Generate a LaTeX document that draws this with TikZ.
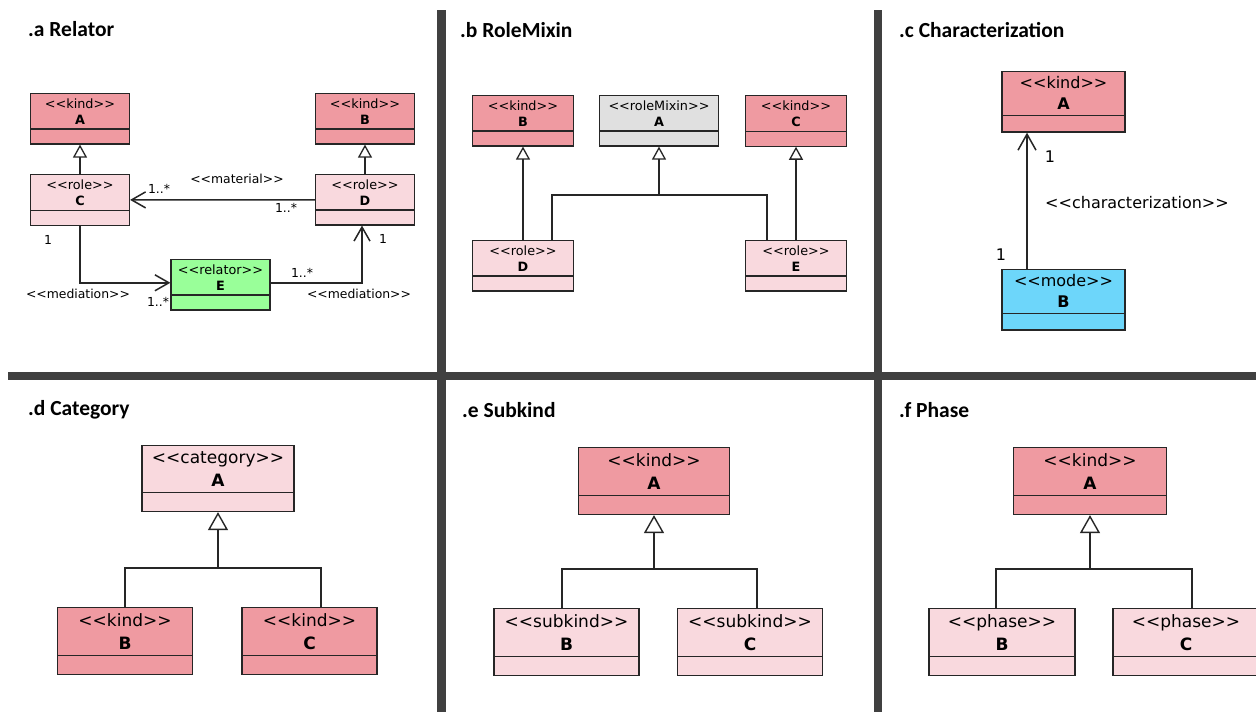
\documentclass[tikz,border=0pt]{standalone}
\usepackage{fontspec}
\setmainfont{DejaVu Sans}
\newfontfamily\titlefont{Carlito}
\usepackage{xcolor}
\usetikzlibrary{shapes.multipart, arrows.meta}
\definecolor{kindred}{HTML}{EF9AA1}
\definecolor{rolepink}{HTML}{F9D9DE}
\definecolor{relatorgreen}{HTML}{99FF99}
\definecolor{mixingray}{HTML}{E0E0E0}
\definecolor{modecyan}{HTML}{6DD6FA}
\definecolor{panelgray}{HTML}{404040}
\newcommand{\ster}[1]{<\kern0pt<#1>\kern0pt>}

\tikzset{
  umlclass/.style={rectangle split, rectangle split parts=2, draw=black!85, line width=1.2pt,
    align=center, inner xsep=2pt, anchor=north, rectangle split empty part depth=0pt},
  smallcls/.style={umlclass, font=\fontsize{12.8}{16}\selectfont, inner ysep=4.2pt, rectangle split empty part height=3.5pt},
  midcls/.style={umlclass, font=\fontsize{16}{21}\selectfont, inner ysep=4.6pt, rectangle split empty part height=6.5pt},
  bigcls/.style={umlclass, font=\fontsize{17}{23}\selectfont, inner ysep=5.4pt, rectangle split empty part height=7pt},
  link/.style={draw=black!85, line width=1.5pt},
  gensmall/.style={link, -{Triangle[open, width=14pt, length=13pt, line width=1.3pt]}},
  genbig/.style={link, -{Triangle[open, width=20pt, length=18pt, line width=1.4pt]}},
  assoc/.style={link, -{Straight Barb[length=14pt, width=16pt, line width=1.5pt]}},
  assocbig/.style={link, -{Straight Barb[length=16pt, width=18pt, line width=1.5pt]}},
  paneltitle/.style={anchor=west, inner sep=0pt, font=\titlefont\bfseries\fontsize{21.5}{21.5}\selectfont},
  smalltag/.style={inner sep=0pt, font=\fontsize{12.4}{14}\selectfont},
  bigtag/.style={inner sep=0pt, font=\fontsize{16}{18}\selectfont},
}

\begin{document}
\begin{tikzpicture}[x=1pt, y=-1pt]
  \useasboundingbox (0,0) rectangle (1256,712);
  \clip (0,0) rectangle (1256,712);
  \fill[white] (0,0) rectangle (1256,712);

  % Panel separators
  \fill[panelgray] (437,10) rectangle (446,712);
  \fill[panelgray] (874,10) rectangle (882,712);
  \fill[panelgray] (8,371.5) rectangle (1256,379.5);

  % .a Relator
  \node[paneltitle] (ta) at (28,29) {.a Relator};
  \node[smallcls, fill=kindred, minimum width=99pt] (aA) at (80,93) {\ster{kind}\\\textbf{A}\nodepart{two}};
  \node[smallcls, fill=kindred, minimum width=99pt] (aB) at (365,93) {\ster{kind}\\\textbf{B}\nodepart{two}};
  \node[smallcls, fill=rolepink, minimum width=99pt] (aC) at (80,174) {\ster{role}\\\textbf{C}\nodepart{two}};
  \node[smallcls, fill=rolepink, minimum width=99pt] (aD) at (365,174) {\ster{role}\\\textbf{D}\nodepart{two}};
  \node[smallcls, fill=relatorgreen, minimum width=99pt] (aE) at (220.5,259) {\ster{relator}\\\textbf{E}\nodepart{two}};
  \draw[gensmall] (aC.north) -- (aA.south);
  \draw[gensmall] (aD.north) -- (aB.south);
  \draw[assoc] (aD.west) -- (aC.east);
  \draw[assoc] (aC.south) |- ([yshift=2pt]aE.west);
  \draw[assoc] ([yshift=2pt]aE.east) -| ([xshift=-3pt]aD.south);
  \node[smalltag] (aMat) at (237,179) {\ster{material}};
  \node[smalltag] (aMatC) at (159,189) {1..*};
  \node[smalltag] (aMatD) at (286,208) {1..*};
  \node[smalltag] (aMedC) at (48,240) {1};
  \node[smalltag] (aMedL) at (78,294) {\ster{mediation}};
  \node[smalltag] (aMedE) at (158,302) {1..*};
  \node[smalltag] (aMedE2) at (302,273) {1..*};
  \node[smalltag] (aMedD) at (383,239) {1};
  \node[smalltag] (aMedR) at (359,294) {\ster{mediation}};

  % .b RoleMixin
  \node[paneltitle] (tb) at (460,30) {.b RoleMixin};
  \node[smallcls, fill=kindred, minimum width=101pt] (bB) at (523,95) {\ster{kind}\\\textbf{B}\nodepart{two}};
  \node[smallcls, fill=mixingray, minimum width=119pt] (bA) at (659,95) {\ster{roleMixin}\\\textbf{A}\nodepart{two}};
  \node[smallcls, fill=kindred, minimum width=101pt] (bC) at (796,95) {\ster{kind}\\\textbf{C}\nodepart{two}};
  \node[smallcls, fill=rolepink, minimum width=101pt] (bD) at (523,240) {\ster{role}\\\textbf{D}\nodepart{two}};
  \node[smallcls, fill=rolepink, minimum width=101pt] (bE) at (796,240) {\ster{role}\\\textbf{E}\nodepart{two}};
  \coordinate (bJ) at (659,195);
  \draw[gensmall] (bD.north) -- (bB.south);
  \draw[gensmall] (bE.north) -- (bC.south);
  \draw[link] ([xshift=29pt]bD.north) |- (bJ) -| ([xshift=-29pt]bE.north);
  \draw[gensmall] (bJ) -- (bA.south);

  % .c Characterization
  \node[paneltitle] (tc) at (899,30) {.c Characterization};
  \node[midcls, fill=kindred, minimum width=123pt] (cA) at (1063.5,71) {\ster{kind}\\\textbf{A}\nodepart{two}};
  \node[midcls, fill=modecyan, minimum width=123pt] (cB) at (1063.5,269) {\ster{mode}\\\textbf{B}\nodepart{two}};
  \draw[assocbig] ([xshift=-36.5pt]cB.north) -- ([xshift=-36.5pt]cA.south);
  \node[bigtag] (cOneA) at (1050,157) {1};
  \node[bigtag] (cOneB) at (1001,255) {1};
  \node[bigtag] (cChar) at (1137,203) {\ster{characterization}};

  % .d Category
  \node[paneltitle] (td) at (28,410) {.d Category};
  \node[bigcls, fill=rolepink, minimum width=152pt] (dA) at (218,445) {\ster{category}\\\textbf{A}\nodepart{two}};
  \node[bigcls, fill=kindred, minimum width=135pt] (dB) at (125,607) {\ster{kind}\\\textbf{B}\nodepart{two}};
  \node[bigcls, fill=kindred, minimum width=135pt] (dC) at (309.5,607) {\ster{kind}\\\textbf{C}\nodepart{two}};
  \coordinate (dJ) at (218,568);
  \draw[link] (dB.north) |- (dJ) -| ([xshift=11.5pt]dC.north);
  \draw[genbig] (dJ) -- (dA.south);

  % .e Subkind
  \node[paneltitle] (te) at (462,410) {.e Subkind};
  \node[bigcls, fill=kindred, minimum width=151pt] (eA) at (654,447) {\ster{kind}\\\textbf{A}\nodepart{two}};
  \node[bigcls, fill=rolepink, minimum width=145pt] (eB) at (566.5,608) {\ster{subkind}\\\textbf{B}\nodepart{two}};
  \node[bigcls, fill=rolepink, minimum width=145pt] (eC) at (750,608) {\ster{subkind}\\\textbf{C}\nodepart{two}};
  \coordinate (eJ) at (654,569);
  \draw[link] ([xshift=-4.5pt]eB.north) |- (eJ) -| ([xshift=7pt]eC.north);
  \draw[genbig] (eJ) -- (eA.south);

  % .f Phase
  \node[paneltitle] (tf) at (899,410) {.f Phase};
  \node[bigcls, fill=kindred, minimum width=153pt] (fA) at (1090,447) {\ster{kind}\\\textbf{A}\nodepart{two}};
  \node[bigcls, fill=rolepink, minimum width=146pt] (fB) at (1002,608) {\ster{phase}\\\textbf{B}\nodepart{two}};
  \node[bigcls, fill=rolepink, minimum width=146pt] (fC) at (1186,608) {\ster{phase}\\\textbf{C}\nodepart{two}};
  \coordinate (fJ) at (1090,569);
  \draw[link] ([xshift=-6pt]fB.north) |- (fJ) -| ([xshift=6pt]fC.north);
  \draw[genbig] (fJ) -- (fA.south);
\end{tikzpicture}
\end{document}
